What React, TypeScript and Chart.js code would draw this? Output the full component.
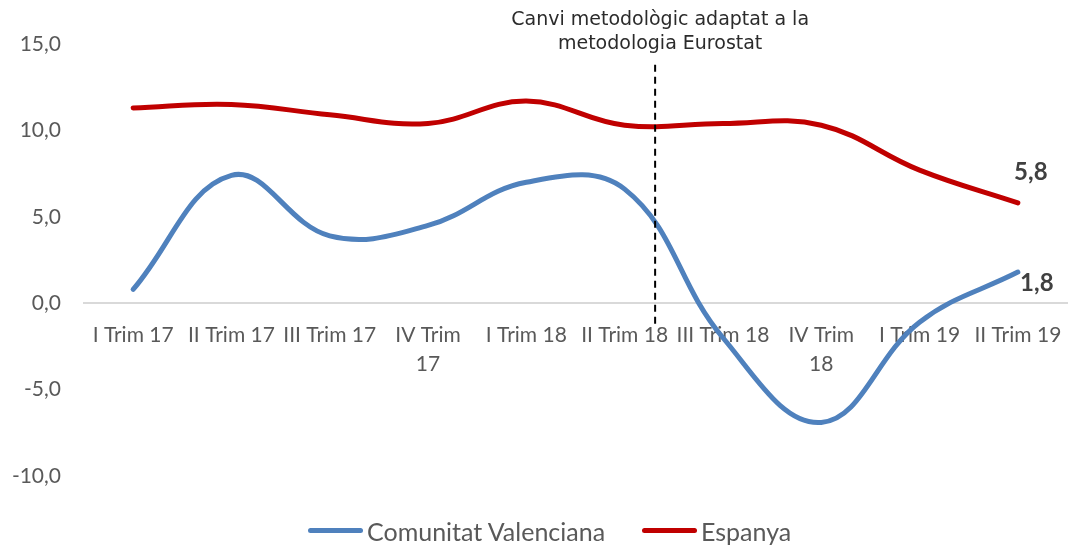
import React, { useEffect, useRef } from "react";
import { Chart, registerables } from "chart.js";

Chart.register(...registerables);

const categories: (string | string[])[] = [
  "I Trim 17",
  "II Trim 17",
  "III Trim 17",
  ["IV Trim", "17"],
  "I Trim 18",
  "II Trim 18",
  "III Trim 18",
  ["IV Trim", "18"],
  "I Trim 19",
  "II Trim 19",
];
const valencia = [0.8, 7.4, 3.9, 4.5, 7.0, 6.6, -2.0, -6.9, -1.1, 1.8];
const espanya = [11.3, 11.5, 10.9, 10.4, 11.7, 10.3, 10.4, 10.3, 7.7, 5.8];
const yTicks = [-10, -5, 0, 5, 10, 15];
const seriesNames = ["Comunitat Valenciana", "Espanya"];
const annotationLines = ["Canvi metodològic adaptat a la", "metodologia Eurostat"];
const annotationX = 5.31;
const annotationYTop = 13.8;
const annotationYBottom = -1.3;

const BLUE = "#4F81BD";
const RED = "#C00000";
const GRAY = "#595959";

const fmt = (v: number) => v.toFixed(1).replace(".", ",");

const labelOffsets = [
  { dx: 19, dy: 11 },
  { dx: 13, dy: -31 },
];

const lastValuePlugin = {
  id: "lastValue",
  afterDatasetsDraw(chart: any) {
    const ctx = chart.ctx;
    ctx.save();
    ctx.font = "bold 24px Lato";
    ctx.fillStyle = "#404040";
    ctx.textAlign = "center";
    ctx.textBaseline = "middle";
    chart.data.datasets.forEach((ds: any, i: number) => {
      const meta = chart.getDatasetMeta(i);
      const last = meta.data.length - 1;
      const pt = meta.data[last];
      const off = labelOffsets[i];
      ctx.fillText(fmt(ds.data[last]), pt.x + off.dx, pt.y + off.dy);
    });
    ctx.restore();
  },
};

const annotationPlugin = {
  id: "methodNote",
  afterDatasetsDraw(chart: any) {
    const ctx = chart.ctx;
    const xs = chart.scales.x;
    const ys = chart.scales.y;
    const x = xs.getPixelForValue(annotationX);
    ctx.save();
    ctx.strokeStyle = "#000000";
    ctx.lineWidth = 2;
    ctx.setLineDash([7, 5]);
    ctx.beginPath();
    ctx.moveTo(x, ys.getPixelForValue(annotationYTop));
    ctx.lineTo(x, ys.getPixelForValue(annotationYBottom));
    ctx.stroke();
    ctx.setLineDash([]);
    ctx.font = "19px 'DejaVu Sans'";
    ctx.fillStyle = "#2b2b2b";
    ctx.textAlign = "center";
    ctx.textBaseline = "middle";
    const top = chart.chartArea.top;
    ctx.fillText(annotationLines[0], x + 5, top - 24);
    ctx.fillText(annotationLines[1], x + 5, top);
    ctx.restore();
  },
};

export default function App() {
  const ref = useRef<HTMLCanvasElement | null>(null);
  useEffect(() => {
    if (!ref.current) return;
    const chart = new Chart(ref.current, {
      type: "line",
      data: {
        labels: categories as any,
        datasets: [
          {
            label: seriesNames[0],
            data: valencia,
            borderColor: BLUE,
            backgroundColor: BLUE,
            borderWidth: 5,
            borderCapStyle: "round",
            pointRadius: 0,
            tension: 0.4,
            fill: false,
          },
          {
            label: seriesNames[1],
            data: espanya,
            borderColor: RED,
            backgroundColor: RED,
            borderWidth: 5,
            borderCapStyle: "round",
            pointRadius: 0,
            tension: 0.4,
            fill: false,
          },
        ],
      },
      options: {
        responsive: false,
        animation: false,
        layout: { padding: { left: 0, right: 2, top: 44, bottom: 71 } },
        plugins: {
          legend: { display: false },
          tooltip: { enabled: false },
        },
        scales: {
          x: {
            type: "category",
            offset: true,
            position: { y: 0 } as any,
            grid: { display: false, drawTicks: false },
            border: { display: true, color: "#D9D9D9", width: 2 },
            afterFit: (s: any) => {
              s.paddingLeft = 0;
              s.paddingRight = 0;
            },
            ticks: {
              color: GRAY,
              font: { family: "Lato", size: 21, lineHeight: 1.4 },
              padding: 17,
              maxRotation: 0,
              autoSkip: false,
            },
          },
          y: {
            min: -10,
            max: 15,
            grid: { display: false, drawTicks: false },
            border: { display: false },
            afterFit: (s: any) => {
              s.width = 84;
            },
            afterBuildTicks: (s: any) => {
              s.ticks = yTicks.map((v) => ({ value: v }));
            },
            ticks: {
              color: GRAY,
              font: { family: "Lato", size: 21 },
              padding: 23,
              callback: (v: any) => fmt(Number(v)),
            },
          },
        },
      },
      plugins: [annotationPlugin, lastValuePlugin],
    });
    return () => chart.destroy();
  }, []);

  const legendText: React.CSSProperties = {
    position: "absolute",
    top: 531,
    transform: "translateY(-50%)",
    fontFamily: "Lato",
    fontSize: 25,
    color: GRAY,
    whiteSpace: "nowrap",
    lineHeight: 1,
  };
  const legendLine = (color: string, left: number, width: number): React.CSSProperties => ({
    position: "absolute",
    top: 528,
    left,
    width,
    height: 5,
    borderRadius: 3,
    background: color,
  });

  return (
    <div style={{ position: "fixed", left: 0, top: 0, width: 1069, height: 547, background: "#fff" }}>
      <canvas ref={ref} width={1069} height={547} style={{ display: "block" }} />
      <div style={legendLine(BLUE, 308, 55)} />
      <div style={{ ...legendText, left: 367 }}>{seriesNames[0]}</div>
      <div style={legendLine(RED, 642, 55)} />
      <div style={{ ...legendText, left: 701 }}>{seriesNames[1]}</div>
    </div>
  );
}
